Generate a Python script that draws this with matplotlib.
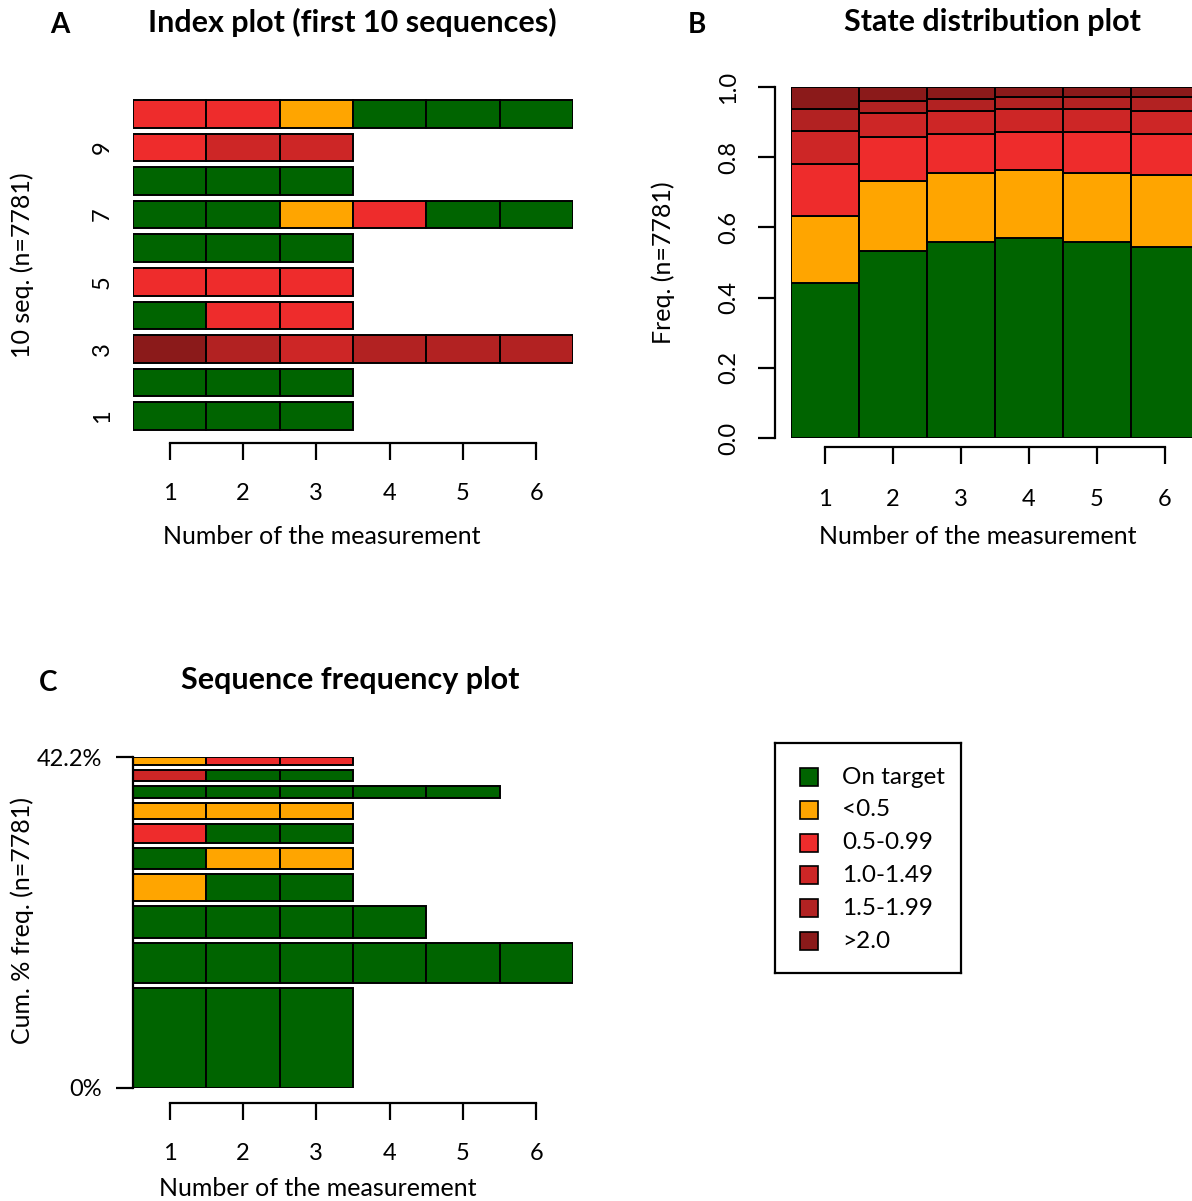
import numpy as np
import matplotlib
matplotlib.use("Agg")
import matplotlib.pyplot as plt
from matplotlib.patches import Rectangle

plt.rcParams['font.family'] = ['Lato', 'DejaVu Sans']

# states and colours
states = ['On target', '<0.5', '0.5-0.99', '1.0-1.49', '1.5-1.99', '>2.0']
colores = ['#006400', '#FFA500', '#EE2C2C', '#CD2626', '#B22222', '#8B1A1A']
medidas = [1, 2, 3, 4, 5, 6]
n_total = 7781

# A: first 10 sequences (row 1 at bottom), state codes
secuencias = [
    [0, 0, 0],
    [0, 0, 0],
    [5, 4, 3, 4, 4, 4],
    [0, 2, 2],
    [2, 2, 2],
    [0, 0, 0],
    [0, 0, 1, 2, 0, 0],
    [0, 0, 0],
    [2, 3, 3],
    [2, 2, 1, 0, 0, 0],
]

# B: state distribution per measurement (columns = measurement 1..6)
dist_on_target = [0.441, 0.533, 0.557, 0.569, 0.557, 0.545]
dist_lt05 = [0.192, 0.199, 0.198, 0.194, 0.198, 0.205]
dist_05_099 = [0.147, 0.125, 0.110, 0.110, 0.118, 0.115]
dist_10_149 = [0.094, 0.069, 0.068, 0.064, 0.064, 0.068]
dist_15_199 = [0.063, 0.035, 0.032, 0.034, 0.034, 0.038]
dist_gt20 = [0.063, 0.039, 0.035, 0.029, 0.029, 0.029]
distribucion = [dist_on_target, dist_lt05, dist_05_099, dist_10_149, dist_15_199, dist_gt20]

# C: 10 most frequent sequences (bottom to top) and their % freq
frec_secuencias = [
    [0, 0, 0],
    [0, 0, 0, 0, 0, 0],
    [0, 0, 0, 0],
    [1, 0, 0],
    [0, 1, 1],
    [2, 0, 0],
    [1, 1, 1],
    [0, 0, 0, 0, 0],
    [3, 0, 0],
    [1, 2, 2],
]
frec_pct = [14.7, 5.9, 4.8, 4.0, 3.0, 2.8, 2.4, 1.8, 1.6, 1.2]

W, H = 1192, 1201
fig = plt.figure(figsize=(W / 100, H / 100), dpi=100)
PX = 72 / 100  # points per pixel


def caja(x0, y0, x1, y1):
    return [x0 / W, 1 - y1 / H, (x1 - x0) / W, (y1 - y0) / H]


def ftext(x, y, s, **kw):
    fig.text(x / W, 1 - y / H, s, **kw)


tam_tick = 17


def eje_x(ax, desde, largo=17, pad=25):
    ax.spines['bottom'].set_position(('outward', desde * PX))
    ax.spines['bottom'].set_bounds(1, 6)
    ax.spines['bottom'].set_linewidth(1.6)
    ax.set_xticks(medidas)
    ax.tick_params(axis='x', length=largo * PX, width=1.6, pad=pad * PX, labelsize=tam_tick)


lw_barra = 1.4
tam_titulo = 22
tam_label = 18

# ---------- A: index plot ----------
axA = fig.add_axes(caja(133, 97, 573, 433))
for fila, sec in enumerate(secuencias, start=1):
    for j, s in enumerate(sec):
        axA.barh(fila, 1, left=j + 0.5, height=0.82, color=colores[s],
                 edgecolor='black', linewidth=lw_barra)
axA.set_xlim(0.5, 6.5)
axA.set_ylim(0.5, 10.5)
for lado in ['top', 'right', 'left']:
    axA.spines[lado].set_visible(False)
eje_x(axA, 10, pad=23)
axA.set_yticks([1, 3, 5, 7, 9])
axA.set_yticklabels(['1', '3', '5', '7', '9'], rotation=90, va='center')
axA.tick_params(axis='y', length=0, pad=20 * PX, labelsize=tam_tick)

# ---------- B: state distribution ----------
axB = fig.add_axes(caja(791, 87, 1192, 438))
abajo = np.zeros(len(medidas))
for k, vals in enumerate(distribucion):
    axB.bar(medidas, vals, width=1, bottom=abajo, color=colores[k],
            edgecolor='black', linewidth=lw_barra)
    abajo = abajo + np.array(vals)
axB.set_xlim(0.5, 0.5 + 401 / 68)
axB.set_ylim(0, 1)
for lado in ['top', 'right']:
    axB.spines[lado].set_visible(False)
eje_x(axB, 9, pad=25)
axB.spines['left'].set_position(('outward', 16 * PX))
axB.spines['left'].set_linewidth(1.6)
axB.set_yticks([0, 0.2, 0.4, 0.6, 0.8, 1.0])
axB.set_yticklabels(['0.0', '0.2', '0.4', '0.6', '0.8', '1.0'], rotation=90, va='center')
axB.tick_params(axis='y', length=17 * PX, width=1.6, pad=19 * PX, labelsize=tam_tick)

# ---------- C: sequence frequency ----------
axC = fig.add_axes(caja(133, 757, 573, 1088))
total = sum(frec_pct)
hueco = 5 / 331 * total
escala = (total - hueco * (len(frec_pct) - 1)) / total
y0 = 0
for sec, f in zip(frec_secuencias, frec_pct):
    h = f * escala
    for j, s in enumerate(sec):
        axC.add_patch(Rectangle((j + 0.5, y0), 1, h, facecolor=colores[s],
                                edgecolor='black', linewidth=lw_barra))
    y0 += h + hueco
axC.set_xlim(0.5, 6.5)
axC.set_ylim(0, total)
for lado in ['top', 'right']:
    axC.spines[lado].set_visible(False)
eje_x(axC, 15, pad=23)
axC.spines['left'].set_linewidth(1.6)
axC.spines['left'].set_bounds(0, total)
axC.set_yticks([0, total])
axC.set_yticklabels(['0%', f'{total:.1f}%'])
axC.tick_params(axis='y', length=17 * PX, width=1.6, pad=14 * PX, labelsize=tam_tick)

# ---------- titles and labels ----------
ftext(60, 25, 'A', fontsize=20, fontweight='bold', ha='center', va='center')
ftext(697, 25, 'B', fontsize=20, fontweight='bold', ha='center', va='center')
ftext(48, 683, 'C', fontsize=20, fontweight='bold', ha='center', va='center')
ftext(352, 22, 'Index plot (first 10 sequences)', fontsize=tam_titulo, fontweight='bold', ha='center', va='center')
ftext(992, 22, 'State distribution plot', fontsize=tam_titulo, fontweight='bold', ha='center', va='center')
ftext(350, 680, 'Sequence frequency plot', fontsize=tam_titulo, fontweight='bold', ha='center', va='center')
ftext(322, 537, 'Number of the measurement', fontsize=tam_label, ha='center', va='center')
ftext(978, 537, 'Number of the measurement', fontsize=tam_label, ha='center', va='center')
ftext(318, 1188, 'Number of the measurement', fontsize=tam_label, ha='center', va='center')
ftext(22, 265, f'10 seq. (n={n_total})', fontsize=tam_label, rotation=90, ha='center', va='center')
ftext(663, 263, f'Freq. (n={n_total})', fontsize=tam_label, rotation=90, ha='center', va='center')
ftext(22, 920, f'Cum. % freq. (n={n_total})', fontsize=tam_label, rotation=90, ha='center', va='center')

# ---------- legend ----------
axL = fig.add_axes(caja(775, 743, 961, 973))
axL.set_xlim(775, 961)
axL.set_ylim(973, 743)
axL.set_xticks([])
axL.set_yticks([])
for lado in axL.spines.values():
    lado.set_linewidth(1.6)
for k, (nombre, c) in enumerate(zip(states, colores)):
    yc = 777 + k * 32.8
    axL.add_patch(Rectangle((800, yc - 9), 18, 18, facecolor=c, edgecolor='black', linewidth=1.2))
    axL.text(842, yc, nombre, fontsize=17.5, va='center', ha='left')

fig.savefig('out.png', dpi=100)
